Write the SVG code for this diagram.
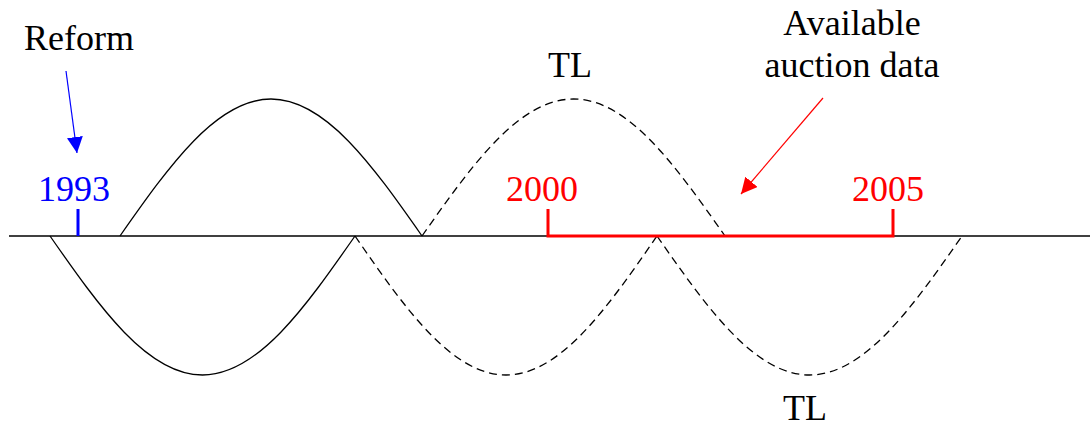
<svg xmlns="http://www.w3.org/2000/svg" width="1090" height="426" viewBox="0 0 1090 426">
<style>
text{font-family:"Liberation Serif","Times New Roman",Times,Tinos,"Noto Serif","Nimbus Roman","FreeSerif","DejaVu Serif",serif;font-size:36px;text-anchor:middle}
.blk{fill:#000}.blu{fill:#0000ff}.red{fill:#ff0000}
.wave{fill:none;stroke:#000;stroke-width:1.3}
.dash{stroke-dasharray:8,5}
</style>
<defs>
<marker id="ab" markerUnits="userSpaceOnUse" markerWidth="18" markerHeight="16" refX="16" refY="8" orient="auto"><path d="M0,0 L16,8 L0,16 z" fill="#0000ff"/></marker>
<marker id="ar" markerUnits="userSpaceOnUse" markerWidth="18" markerHeight="16" refX="16" refY="8" orient="auto"><path d="M0,0 L16,8 L0,16 z" fill="#ff0000"/></marker>
</defs>
<rect width="1090" height="426" fill="#fff"/>
<g id="axis"><line x1="9" y1="236" x2="1090" y2="236" stroke="#000" stroke-width="1.5"/></g>
<g id="waves">
<path class="wave" d="M120,236 C169.2,165.8 216.4,99 271,99 C325.6,99 372.8,165.8 422,236"/>
<path class="wave" d="M50,236 C99.7,307.2 147.3,375 202.5,375 C257.7,375 305.3,307.2 355,236"/>
<path class="wave dash" d="M422,236 C471.4,165.8 518.7,99 573.5,99 C628.3,99 675.6,165.8 725,236"/>
<path class="wave dash" d="M355,236 C404.2,307.2 451.4,375 506,375 C560.6,375 607.8,307.2 657,236"/>
<path class="wave dash" d="M657,236 C706.7,307.2 754.3,375 809.5,375 C864.7,375 912.3,307.2 962,236"/>
</g>
<g id="marks">
<line x1="78" y1="209" x2="78" y2="236" stroke="#0000ff" stroke-width="3"/>
<path d="M548,209 V236 H893 V209" fill="none" stroke="#ff0000" stroke-width="3"/>
</g>
<g id="connectors">
<line x1="66" y1="71" x2="77" y2="153" stroke="#0000ff" stroke-width="1.2" marker-end="url(#ab)"/>
<line x1="823" y1="98" x2="741" y2="194" stroke="#ff0000" stroke-width="1.2" marker-end="url(#ar)"/>
</g>
<g id="labels">
<text class="blk" x="79" y="50">Reform</text>
<text class="blu" x="74" y="201">1993</text>
<text class="red" x="542" y="201">2000</text>
<text class="red" x="888" y="201">2005</text>
<text class="blk" x="570" y="77">TL</text>
<text class="blk" x="852" y="35">Available</text>
<text class="blk" x="852" y="77">auction data</text>
<text class="blk" x="805" y="420">TL</text>
</g>
</svg>
